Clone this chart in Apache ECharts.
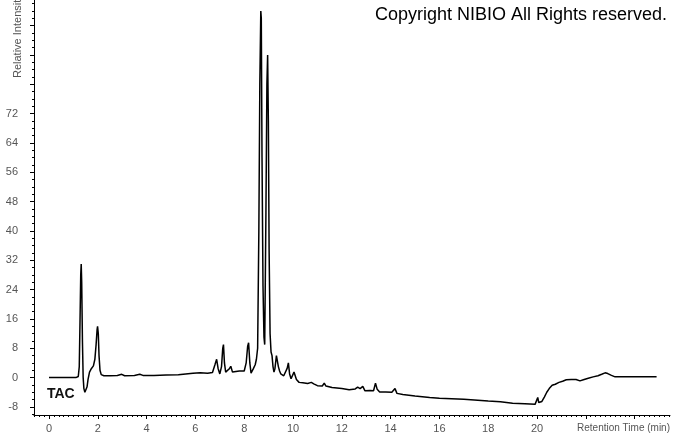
<!DOCTYPE html>
<html>
<head>
<meta charset="utf-8">
<script src="https://cdn.jsdelivr.net/npm/echarts@6/dist/echarts.min.js"></script>
<style>
html,body{margin:0;padding:0;background:#fff;}
#chart{width:674px;height:434px;}
</style>
</head>
<body>
<div id="chart"></div>
<script>
// Retention time (min)
var retentionTime = [
  0.00, 1.10, 1.20, 1.24, 1.27, 1.30, 1.32, 1.34, 1.37, 1.40, 1.43, 1.47, 1.52, 1.56, 1.60, 1.66, 1.74, 1.82, 1.88, 1.93,
  1.97, 1.99, 2.02, 2.05, 2.09, 2.14, 2.25, 2.50, 2.80, 2.98, 3.10, 3.50, 3.72, 3.85, 4.30, 4.80, 5.30, 5.60, 5.90, 6.20,
  6.50, 6.70, 6.80, 6.87, 6.93, 7.00, 7.07, 7.12, 7.15, 7.19, 7.24, 7.32, 7.40, 7.45, 7.52, 7.60, 7.80, 8.00, 8.08, 8.14,
  8.18, 8.23, 8.28, 8.32, 8.38, 8.45, 8.50, 8.55, 8.60, 8.64, 8.68, 8.70, 8.73, 8.77, 8.81, 8.84, 8.89, 8.93, 8.96, 8.99,
  9.02, 9.06, 9.10, 9.14, 9.18, 9.22, 9.26, 9.32, 9.36, 9.40, 9.45, 9.50, 9.55, 9.62, 9.70, 9.76, 9.81, 9.86, 9.92, 9.98,
  10.04, 10.08, 10.14, 10.25, 10.40, 10.60, 10.75, 10.85, 11.00, 11.20, 11.28, 11.35, 11.60, 12.00, 12.30, 12.55, 12.65, 12.75, 12.86, 12.95,
  13.15, 13.30, 13.38, 13.45, 13.55, 13.80, 14.05, 14.18, 14.26, 14.50, 15.00, 15.60, 16.00, 17.00, 18.00, 18.50, 19.00, 19.50, 19.92, 19.98,
  20.03, 20.07, 20.12, 20.20, 20.30, 20.40, 20.50, 20.62, 20.75, 20.90, 21.05, 21.20, 21.40, 21.60, 21.76, 21.90, 22.10, 22.30, 22.50, 22.65,
  22.79, 22.90, 23.05, 23.20, 24.00, 24.90
];
// Relative intensity
var intensity = [
  0.0, 0.0, 0.3, 3, 15, 28, 31, 26, 10, 0, -3, -4, -3.8, -2.5, -0.5, 1.5, 2.5, 3.2, 5, 9,
  13, 14, 12, 6, 2, 0.8, 0.5, 0.5, 0.6, 0.9, 0.5, 0.6, 0.9, 0.6, 0.6, 0.7, 0.8, 1.0, 1.2, 1.3,
  1.2, 1.4, 3.5, 5, 2.5, 1.0, 3, 8, 9, 4, 1.5, 1.2, 2.5, 3.1, 1.5, 1.6, 1.8, 1.8, 4, 8.5,
  9.5, 4, 1.2, 0.8, 2.5, 3.5, 5, 8, 40, 80, 100, 98, 60, 25, 11, 9, 45, 80, 88, 70,
  35, 12, 7, 6, 3, 1.5, 2.5, 6, 6.3, 3, 1.8, 1.0, 0.8, 0.5, 0.2, 2.5, 4, 1.0, -0.3, -0.3,
  1.5, 1.7, -0.5, -1.3, -1.4, -1.6, -1.3, -1.7, -2.2, -2.3, -1.5, -2.3, -2.7, -3.0, -3.3, -3.1, -2.6, -3.0, -2.4, -3.6,
  -3.5, -3.6, -1.5, -3.2, -3.9, -3.9, -4.0, -3.0, -4.3, -4.6, -5.0, -5.4, -5.6, -5.9, -6.4, -6.6, -7.0, -7.1, -7.3, -7.0,
  -5.4, -6.8, -7.1, -6.5, -5.3, -4.0, -3.0, -2.1, -1.8, -1.3, -1.0, -0.6, -0.5, -0.5, -0.9, -0.6, -0.2, 0.2, 0.5, 0.9,
  1.3, 1.1, 0.6, 0.2, 0.2, 0.2
];
// Axis tick labels
var xTickLabels = [0, 2, 4, 6, 8, 10, 12, 14, 16, 18, 20];
var yTickLabels = [-8, 0, 8, 16, 24, 32, 40, 48, 56, 64, 72];
var xMajorTicks = [0, 2, 4, 6, 8, 10, 12, 14, 16, 18, 20, 22, 24];
var yMajorTicks = [-8, 0, 8, 16, 24, 32, 40, 48, 56, 64, 72, 80, 88, 96];
var traceName = 'TAC';
var copyrightText = 'Copyright NIBIO All Rights reserved.';

var X_MIN = -0.615, X_MAX = 25.45, Y_MIN = -10.2, Y_MAX = 103;

var xMinorTicks = [];
for (var i = -3; i <= 127; i++) xMinorTicks.push(+(i * 0.2).toFixed(2));
var yMinorTicks = [];
for (var j = -5; j <= 51; j++) yMinorTicks.push(j * 2);

var points = retentionTime.map(function (t, k) { return [t, intensity[k]]; });

var labelColor = '#555';
var font = 'Liberation Sans, Arial, sans-serif';

var chart = echarts.init(document.getElementById('chart'), null, {renderer: 'canvas'});
chart.setOption({
  animation: false,
  backgroundColor: '#fff',
  title: {
    text: copyrightText,
    right: 2,
    top: 1,
    textStyle: {fontSize: 18, fontWeight: 'normal', color: '#000', fontFamily: font}
  },
  grid: {left: 34, right: 4, top: 0, bottom: 19, containLabel: false, outerBoundsMode: 'none'},
  xAxis: [{
    type: 'value', min: X_MIN, max: X_MAX, position: 'bottom',
    axisLine: {show: true, onZero: false, lineStyle: {color: '#000', width: 1}},
    axisTick: {show: true, customValues: xMajorTicks, length: 4, lineStyle: {color: '#000'}},
    axisLabel: {show: true, customValues: xTickLabels, margin: 8, color: labelColor, fontSize: 11, fontFamily: font},
    splitLine: {show: false}
  }, {
    type: 'value', min: X_MIN, max: X_MAX, position: 'bottom', offset: 0,
    axisLine: {show: false, onZero: false},
    axisTick: {show: true, customValues: xMinorTicks, length: 2, lineStyle: {color: '#000'}},
    axisLabel: {show: false},
    splitLine: {show: false}
  }],
  yAxis: [{
    type: 'value', min: Y_MIN, max: Y_MAX, position: 'left',
    axisLine: {show: true, onZero: false, lineStyle: {color: '#000', width: 1}},
    axisTick: {show: true, customValues: yMajorTicks, length: 4, lineStyle: {color: '#000'}},
    axisLabel: {show: true, customValues: yTickLabels, margin: 16, color: labelColor, fontSize: 11, fontFamily: font},
    splitLine: {show: false}
  }, {
    type: 'value', min: Y_MIN, max: Y_MAX, position: 'left', offset: 0,
    axisLine: {show: false, onZero: false},
    axisTick: {show: true, customValues: yMinorTicks, length: 2, lineStyle: {color: '#000'}},
    axisLabel: {show: false},
    splitLine: {show: false}
  }],
  graphic: [
    {type: 'text', x: 18, y: 78, rotation: Math.PI / 2,
     style: {text: 'Relative Intensity', fill: labelColor, fontSize: 11, fontFamily: font, textAlign: 'left', textVerticalAlign: 'middle'}},
    {type: 'text', x: 670, y: 428,
     style: {text: 'Retention Time (min)', fill: labelColor, fontSize: 10, fontFamily: font, textAlign: 'right', textVerticalAlign: 'middle'}},
    {type: 'text', x: 47, y: 394,
     style: {text: traceName, fill: '#111', fontSize: 14, fontWeight: 'bold', fontFamily: font, textAlign: 'left', textVerticalAlign: 'middle'}}
  ],
  series: [{
    type: 'line', xAxisIndex: 0, yAxisIndex: 0,
    data: points, showSymbol: false, symbol: 'none',
    lineStyle: {color: '#000', width: 1.5}, clip: false
  }]
});
</script>
</body>
</html>
